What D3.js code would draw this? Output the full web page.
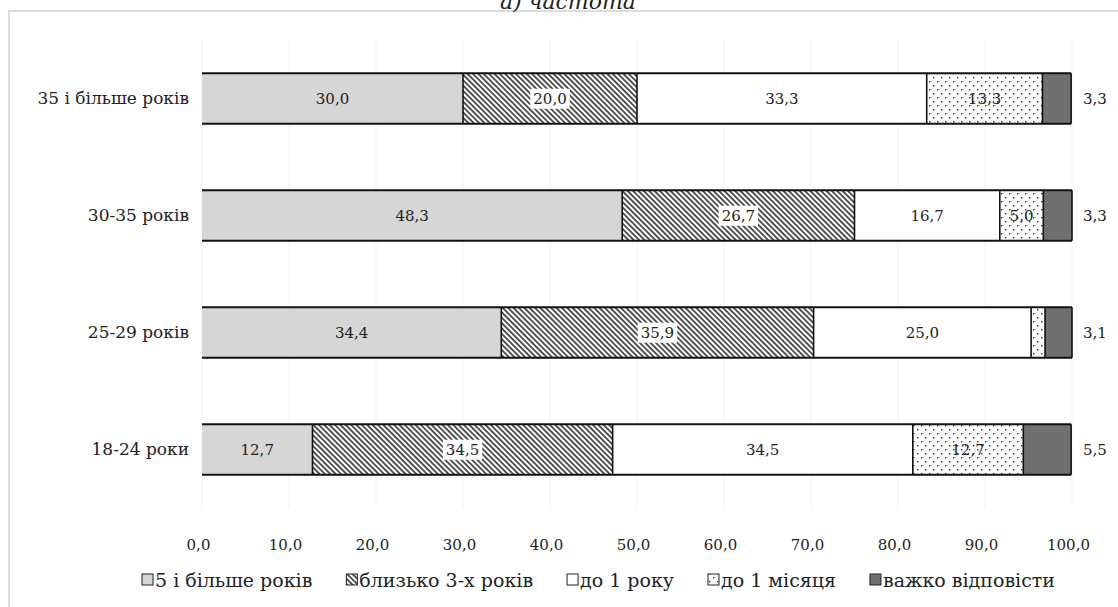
<!DOCTYPE html>
<html>
<head>
<meta charset="utf-8">
<script src="https://cdn.jsdelivr.net/npm/d3@7/dist/d3.min.js"></script>
<style>
  html, body { margin: 0; padding: 0; background: #fff; }
  svg { display: block; }
  svg text { fill: #222; }
</style>
</head>
<body>
<svg id="chart" width="1118" height="607"></svg>
<script>
// ---------- data ----------
const categories = ["35 і більше років", "30-35 років", "25-29 років", "18-24 роки"];
const seriesNames = ["5 і більше років", "близько 3-х років", "до 1 року", "до 1 місяця", "важко відповісти"];
const s5plus   = [30.0, 48.3, 34.4, 12.7];
const s3years  = [20.0, 26.7, 35.9, 34.5];
const s1year   = [33.3, 16.7, 25.0, 34.5];
const s1month  = [13.3, 5.0, 1.6, 12.7];
const sHard    = [3.3, 3.3, 3.1, 5.5];
const showLabel1month = [true, true, false, true];
const tickValues = [0, 10, 20, 30, 40, 50, 60, 70, 80, 90, 100];
const titleText = "а) частота";

const seriesValues = [s5plus, s3years, s1year, s1month, sHard];
const fills = ["#d6d6d6", "url(#hatch)", "#ffffff", "url(#dots)", "#707070"];
const FONT = "DejaVu Serif";

// ---------- setup ----------
const svg = d3.select("#chart");
const defs = svg.append("defs");

const hatch = defs.append("pattern")
  .attr("id", "hatch").attr("patternUnits", "userSpaceOnUse")
  .attr("width", 3.8).attr("height", 3.8)
  .attr("patternTransform", "rotate(-45)");
hatch.append("rect").attr("width", 3.8).attr("height", 3.8).attr("fill", "#fff");
hatch.append("line").attr("x1", 1).attr("y1", 0).attr("x2", 1).attr("y2", 3.8)
  .attr("stroke", "#111").attr("stroke-width", 1.4);

const dots = defs.append("pattern")
  .attr("id", "dots").attr("patternUnits", "userSpaceOnUse")
  .attr("width", 8).attr("height", 8);
dots.append("rect").attr("width", 8).attr("height", 8).attr("fill", "#fff");
dots.append("rect").attr("x", 1).attr("y", 1).attr("width", 1.4).attr("height", 1.4).attr("fill", "#333");
dots.append("rect").attr("x", 5).attr("y", 5).attr("width", 1.4).attr("height", 1.4).attr("fill", "#333");

// frame
svg.append("rect").attr("x", 9).attr("y", 11).attr("width", 1200).attr("height", 700)
  .attr("fill", "none").attr("stroke", "#dcdcdc").attr("stroke-width", 2);

// title
svg.append("text").attr("x", 568).attr("y", 9).attr("text-anchor", "middle")
  .attr("font-size", 22).attr("font-style", "italic").attr("font-family", FONT).text(titleText);

const x = d3.scaleLinear().domain([0, 100]).range([202, 1072]);
const y = d3.scaleBand().domain(categories).range([40, 508])
  .paddingInner(0.57).paddingOuter(0.285);

// gridlines
svg.append("g").selectAll("line").data(tickValues).join("line")
  .attr("x1", d => x(d)).attr("x2", d => x(d))
  .attr("y1", 40).attr("y2", 508)
  .attr("stroke", "#f3f3f3").attr("stroke-width", 1);

const rows = categories.map((c, i) => {
  let acc = 0;
  return seriesValues.map((s, k) => {
    const seg = { cat: c, k, i, v: s[i], x0: acc, x1: acc + s[i] };
    acc += s[i];
    return seg;
  });
});

const fmt = v => v.toFixed(1).replace(".", ",");
const gBars = svg.append("g");
rows.forEach(segs => {
  const cat = segs[0].cat;
  const y0 = y(cat), bh = y.bandwidth();
  gBars.append("g").selectAll("rect").data(segs).join("rect")
    .attr("x", d => x(d.x0)).attr("y", y0)
    .attr("width", d => x(d.x1) - x(d.x0)).attr("height", bh)
    .attr("fill", d => fills[d.k]);
  gBars.append("g").selectAll("line").data(segs).join("line")
    .attr("x1", d => x(d.x1)).attr("x2", d => x(d.x1))
    .attr("y1", y0).attr("y2", y0 + bh)
    .attr("stroke", "#111").attr("stroke-width", 1.6);
  const xEnd = x(segs[segs.length - 1].x1);
  gBars.append("line").attr("x1", x(0)).attr("x2", xEnd).attr("y1", y0).attr("y2", y0)
    .attr("stroke", "#111").attr("stroke-width", 2);
  gBars.append("line").attr("x1", x(0)).attr("x2", xEnd).attr("y1", y0 + bh).attr("y2", y0 + bh)
    .attr("stroke", "#111").attr("stroke-width", 2);

  segs.forEach(d => {
    const cy = y0 + bh / 2;
    if (d.k === 4) {
      svg.append("text").attr("x", x(100) + 11).attr("y", cy).attr("dy", "0.35em")
        .attr("font-size", 15).attr("font-family", FONT).text(fmt(d.v));
      return;
    }
    if (d.k === 3 && !showLabel1month[d.i]) return;
    const cx = (x(d.x0) + x(d.x1)) / 2;
    const t = svg.append("text").attr("x", cx).attr("y", cy).attr("dy", "0.35em")
      .attr("text-anchor", "middle").attr("font-size", 15).attr("font-family", FONT)
      .attr("fill", "#333").text(fmt(d.v));
    if (d.k === 1) {
      const bb = t.node().getBBox();
      svg.insert("rect", () => t.node())
        .attr("x", bb.x - 3).attr("y", bb.y - 1).attr("width", bb.width + 6).attr("height", bb.height + 2)
        .attr("fill", "#fff");
    }
  });
});

svg.append("g").selectAll("text").data(categories).join("text")
  .attr("x", 189).attr("y", d => y(d) + y.bandwidth() / 2).attr("dy", "0.35em")
  .attr("text-anchor", "end").attr("font-size", 17).attr("font-family", FONT).text(d => d);

const axis = d3.axisBottom(x).tickValues(tickValues).tickSize(0)
  .tickFormat(d => d.toFixed(1).replace(".", ","));
const gAxis = svg.append("g").attr("transform", "translate(-4,536)").call(axis);
gAxis.attr("font-family", FONT).attr("font-size", 15);
gAxis.select(".domain").remove();
gAxis.selectAll("text").attr("fill", "#222");

// legend: spread to the reference span
const legStart = 142, legEnd = 1055;
const legend = svg.append("g").attr("transform", `translate(${legStart},580)`);
const items = seriesNames.map((name, k) => {
  const item = legend.append("g");
  item.append("rect").attr("x", 0).attr("y", -6).attr("width", 11).attr("height", 11)
    .attr("fill", fills[k]).attr("stroke", "#222").attr("stroke-width", 1);
  const t = item.append("text").attr("x", 13).attr("y", 0).attr("dy", "0.35em")
    .attr("font-size", 19).attr("font-family", FONT).text(name);
  return { item, w: 13 + t.node().getComputedTextLength() };
});
const totalW = d3.sum(items, d => d.w);
const gap = Math.max(8, (legEnd - legStart - totalW) / (items.length - 1));
let lx = 0;
items.forEach(d => { d.item.attr("transform", `translate(${lx},0)`); lx += d.w + gap; });
</script>
</body>
</html>
